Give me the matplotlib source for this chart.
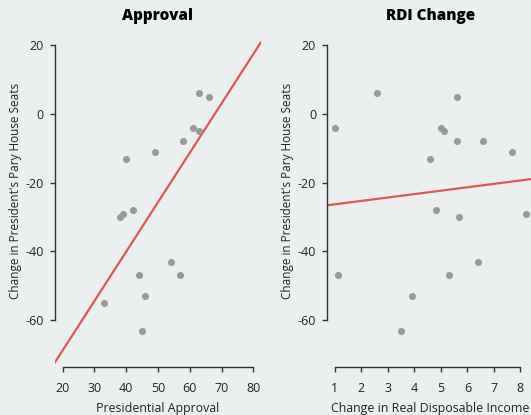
import numpy as np
import matplotlib
matplotlib.use("Agg")
import matplotlib.pyplot as plt

# midterm seat change vs. presidential approval
approval = [63, 66, 61, 63, 58, 49, 40, 42, 39, 38, 54, 44, 57, 46, 33, 45]
seats_approval = [6, 5, -4, -5, -8, -11, -13, -28, -29, -30, -43, -47, -47, -53, -55, -63]

# midterm seat change vs. change in real disposable income
rdi_change = [1.0, 2.6, 5.6, 5.0, 5.1, 5.6, 6.6, 7.7, 4.6, 4.8, 5.7, 8.2, 1.1, 6.4, 5.3, 3.9, 3.5]
seats_rdi = [-4, 6, 5, -4, -5, -8, -8, -11, -13, -28, -30, -29, -47, -43, -47, -53, -63]

# fitted lines (intercept, slope)
fit_approval = (-97.5, 1.436)
fit_rdi = (-27.3, 0.99)

titles = ["Approval", "RDI Change"]
xlabels = ["Presidential Approval", "Change in Real Disposable Income"]
ylabel = "Change in President's Pary House Seats"
xticks_approval = [20, 30, 40, 50, 60, 70, 80]
xticks_rdi = [1, 2, 3, 4, 5, 6, 7, 8]
yticks = [-60, -40, -20, 0, 20]

bg = "#eceff0"
plt.rcParams["font.family"] = ["Open Sans", "DejaVu Sans"]

fig = plt.figure(figsize=(5.31, 4.15), dpi=100, facecolor=bg)
W, H = 531, 415
axes = [fig.add_axes([55 / W, 1 - 367 / H, 206 / W, 334.4 / H]),
        fig.add_axes([327.3 / W, 1 - 367 / H, 206 / W, 334.4 / H])]


def style_panel(ax, xs, ys, fit, xticks, xlim, title, xlabel):
    ax.set_facecolor(bg)
    ax.scatter(xs, ys, s=26, color="#9a9a9a", linewidths=0, zorder=3)
    lx = np.array(xlim)
    ax.plot(lx, fit[0] + fit[1] * lx, color="#d65a55", lw=1.6, zorder=2)
    ax.set_xlim(xlim)
    ax.set_ylim(-73.6, 23.6)
    ax.set_xticks(xticks)
    ax.set_yticks(yticks)
    ax.set_yticklabels([str(t) for t in yticks])
    for side in ["top", "right"]:
        ax.spines[side].set_visible(False)
    ax.spines["left"].set_bounds(yticks[0], yticks[-1])
    ax.spines["bottom"].set_bounds(xticks[0], xticks[-1])
    for side in ["left", "bottom"]:
        ax.spines[side].set_color("#333333")
        ax.spines[side].set_linewidth(1.0)
    ax.tick_params(axis="both", length=3.6, width=1.0, color="#333333",
                   labelsize=9, labelcolor="#222222")
    ax.tick_params(axis="x", pad=7)
    ax.tick_params(axis="y", pad=4.5)
    ax.set_title(title, fontsize=11, fontweight=800, pad=9)
    ax.set_xlabel(xlabel, fontsize=8.9, color="#222222", va="top")
    ax.xaxis.set_label_coords(0.5, -0.105)
    ax.set_ylabel(ylabel, fontsize=8.5, color="#222222")
    ax.yaxis.set_label_coords(-0.16, 0.527)


style_panel(axes[0], approval, seats_approval, fit_approval, xticks_approval,
            (17.6, 82.4), titles[0], xlabels[0])
style_panel(axes[1], rdi_change, seats_rdi, fit_rdi, xticks_rdi,
            (0.712, 8.488), titles[1], xlabels[1])

fig.savefig("out.png", dpi=100, facecolor=bg)
